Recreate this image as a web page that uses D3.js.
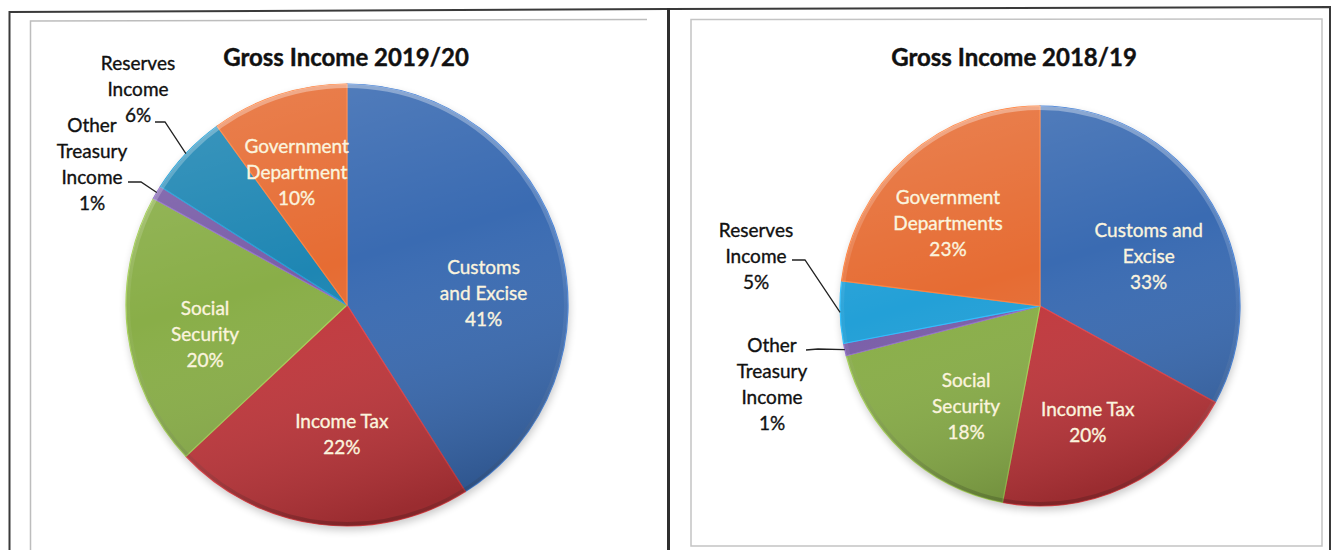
<!DOCTYPE html>
<html>
<head>
<meta charset="utf-8">
<script src="https://cdn.jsdelivr.net/npm/d3@7"></script>
<style>
  html, body { margin: 0; padding: 0; background: #fff; }
  svg { display: block; }
  text { font-family: Lato, "Open Sans", sans-serif; }
</style>
</head>
<body>
<svg id="chart" width="1334" height="550"></svg>
<script>
// ---- data ----
const categories = ["Customs and Excise", "Income Tax", "Social Security",
                    "Other Treasury Income", "Reserves Income", "Government Departments"];
const titles = ["Gross Income 2019/20", "Gross Income 2018/19"];
const values2019 = [41, 22, 20, 1, 6, 10];
const values2018 = [33, 20, 18, 1, 5, 23];
const labelLines2019 = [["Customs", "and Excise"], ["Income Tax"], ["Social", "Security"],
                        ["Other", "Treasury", "Income"], ["Reserves", "Income"], ["Government", "Department"]];
const labelLines2018 = [["Customs and", "Excise"], ["Income Tax"], ["Social", "Security"],
                        ["Other", "Treasury", "Income"], ["Reserves", "Income"], ["Government", "Departments"]];

// ---- styling ----
const palette2019 = ["#3a6bb2", "#c1373c", "#89ae48", "#7a5ea8", "#1e86b3", "#e66c33"];
const palette2018 = ["#3a6bb2", "#c1373c", "#89ae48", "#7a5ea8", "#23a0d7", "#e66c33"];
const insideText = "#fbf4de";
const lineH = 26;
const labelSize = 19;

// per-chart layout: pie geometry, label nudges and callout placement
const charts = [
  {
    title: titles[0], values: values2019, lines: labelLines2019, colors: palette2019,
    cx: 347, cy: 305, r: 221, titleX: 346,
    nudge: { 0: [5, 27], 1: [12, -7], 2: [-6, 12], 5: [-8, -2] },
    callouts: {
      4: { dx: -209, dy: -242, bend: [[-192, -183], [-182, -183]] },
      3: { dx: -255, dy: -180, bend: [[-219, -123], [-206, -123]] }
    }
  },
  {
    title: titles[1], values: values2018, lines: labelLines2018, colors: palette2018,
    cx: 1040, cy: 306, r: 200, titleX: 1014,
    nudge: { 0: [2, 13], 1: [-5, 4], 2: [11, 10], 5: [-10, 10] },
    callouts: {
      4: { dx: -284, dy: -76, bend: [[-248, -46], [-235, -46]] },
      3: { dx: -268, dy: 39, bend: [[-234, 44], [-222, 43]] }
    }
  }
];

const svg = d3.select("#chart");
const defs = svg.append("defs");

const blur = defs.append("filter").attr("id", "pieShadow")
  .attr("x", "-20%").attr("y", "-20%").attr("width", "140%").attr("height", "140%");
blur.append("feGaussianBlur").attr("stdDeviation", 4);

const shade = defs.append("linearGradient").attr("id", "shade")
  .attr("x1", 0.2).attr("y1", 0).attr("x2", 0.5).attr("y2", 1);
shade.append("stop").attr("offset", "0%").attr("stop-color", "#fff").attr("stop-opacity", 0.14);
shade.append("stop").attr("offset", "45%").attr("stop-color", "#fff").attr("stop-opacity", 0);
shade.append("stop").attr("offset", "100%").attr("stop-color", "#000").attr("stop-opacity", 0.2);

const rim = defs.append("linearGradient").attr("id", "rim")
  .attr("x1", 0).attr("y1", 0).attr("x2", 0).attr("y2", 1);
rim.append("stop").attr("offset", "0%").attr("stop-color", "#fff").attr("stop-opacity", 0.35);
rim.append("stop").attr("offset", "50%").attr("stop-color", "#fff").attr("stop-opacity", 0.05);
rim.append("stop").attr("offset", "100%").attr("stop-color", "#000").attr("stop-opacity", 0.18);

// ---- frames ----
const frame = svg.append("g").attr("fill", "none");
frame.append("path").attr("d", "M9.5,550 L9.5,12 L668,9 L1330,7 L1330,550")
  .attr("stroke", "#3a3a3a").attr("stroke-width", 2);
frame.append("path").attr("d", "M668.5,8 L668.5,550")
  .attr("stroke", "#2e2e2e").attr("stroke-width", 3);
frame.append("path").attr("d", "M30.5,550 L30.5,21 L647,19.5")
  .attr("stroke", "#bdbdbd").attr("stroke-width", 1.5);
frame.append("path").attr("d", "M691,546 L691,19.5 L1322,19 L1322,546 Z")
  .attr("stroke", "#c4c4c4").attr("stroke-width", 1.5);

// ---- pies ----
const pie = d3.pie().sort(null).value(d => d).startAngle(0).endAngle(2 * Math.PI);

charts.forEach(ch => {
  const g = svg.append("g").attr("transform", `translate(${ch.cx},${ch.cy})`);
  const arcs = pie(ch.values);
  const arc = d3.arc().innerRadius(0).outerRadius(ch.r);
  const labelArc = d3.arc().innerRadius(ch.r * 0.62).outerRadius(ch.r * 0.62);
  const edgeArc = d3.arc().innerRadius(ch.r).outerRadius(ch.r);

  svg.append("text")
    .attr("x", ch.titleX).attr("y", 66)
    .attr("text-anchor", "middle")
    .attr("font-size", 24).attr("font-weight", 700).attr("fill", "#111")
    .attr("stroke", "#111").attr("stroke-width", 0.4)
    .text(ch.title);

  // soft shadow under the pie
  g.append("circle").attr("cx", 1).attr("cy", 4).attr("r", ch.r)
    .attr("fill", "#000").attr("opacity", 0.22).attr("filter", "url(#pieShadow)");

  g.selectAll("path.slice").data(arcs).join("path")
    .attr("class", "slice")
    .attr("d", arc)
    .attr("fill", (d, i) => ch.colors[i])
    .attr("stroke", (d, i) => d3.color(ch.colors[i]).brighter(0.5))
    .attr("stroke-width", 1.2)
    .attr("stroke-linejoin", "round");

  g.append("circle").attr("r", ch.r).attr("fill", "url(#shade)");
  g.append("circle").attr("r", ch.r - 2).attr("fill", "none")
    .attr("stroke", "url(#rim)").attr("stroke-width", 4);

  // labels inside the larger slices
  arcs.forEach((d, i) => {
    if (ch.callouts[i]) return;
    const [x, y] = labelArc.centroid(d);
    const [nx, ny] = ch.nudge[i] || [0, 0];
    const lines = ch.lines[i].concat([d.data + "%"]);
    const y0 = y + ny - (lines.length - 1) * lineH / 2;
    const t = g.append("text")
      .attr("text-anchor", "middle")
      .attr("font-size", labelSize).attr("fill", insideText)
      .attr("stroke", insideText).attr("stroke-width", 0.35);
    lines.forEach((s, k) => {
      t.append("tspan").attr("x", x + nx).attr("y", y0 + k * lineH).attr("dy", "0.35em").text(s);
    });
  });

  // callout labels with leader lines for the thin slices
  Object.keys(ch.callouts).forEach(key => {
    const i = +key;
    const c = ch.callouts[i];
    const d = arcs[i];
    const lines = ch.lines[i].concat([d.data + "%"]);
    const t = g.append("text")
      .attr("text-anchor", "middle")
      .attr("font-size", labelSize).attr("fill", "#111")
      .attr("stroke", "#111").attr("stroke-width", 0.35);
    lines.forEach((s, k) => {
      t.append("tspan").attr("x", c.dx).attr("y", c.dy + k * lineH).attr("dy", "0.35em").text(s);
    });
    const end = edgeArc.centroid(d);
    g.append("path")
      .attr("d", d3.line()(c.bend.concat([end])))
      .attr("fill", "none").attr("stroke", "#222").attr("stroke-width", 1.3);
  });
});
</script>
</body>
</html>
